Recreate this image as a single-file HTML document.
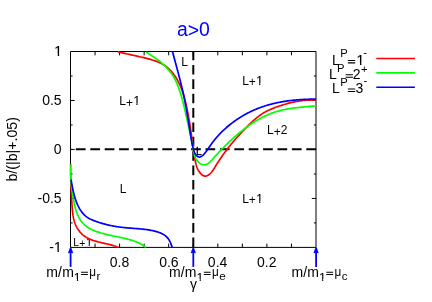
<!DOCTYPE html>
<html><head><meta charset="utf-8"><title>a&gt;0</title>
<style>
html,body{margin:0;padding:0;background:#fff;}
body{width:432px;height:302px;overflow:hidden;}
svg{display:block;will-change:transform;}
text{font-family:"Liberation Sans",sans-serif;fill:#000;}
</style></head><body>
<svg width="432" height="302" viewBox="0 0 432 302">
<rect width="432" height="302" fill="#fff"/>
<text x="193.4" y="36.1" font-size="19.4" text-anchor="middle" style="fill:#0000ff">a<tspan dy="0.8">&gt;</tspan><tspan dy="-0.8">0</tspan></text>
<g stroke="#000" stroke-width="1" fill="none">
<path d="M70.50,51.50 H316.00 V247.40 H70.50 Z"/>
<line x1="291.45" y1="247.40" x2="291.45" y2="243.60"/><line x1="291.45" y1="51.50" x2="291.45" y2="55.30"/><line x1="266.90" y1="247.40" x2="266.90" y2="243.60"/><line x1="266.90" y1="51.50" x2="266.90" y2="55.30"/><line x1="242.35" y1="247.40" x2="242.35" y2="243.60"/><line x1="242.35" y1="51.50" x2="242.35" y2="55.30"/><line x1="217.80" y1="247.40" x2="217.80" y2="243.60"/><line x1="217.80" y1="51.50" x2="217.80" y2="55.30"/><line x1="193.25" y1="247.40" x2="193.25" y2="243.60"/><line x1="193.25" y1="51.50" x2="193.25" y2="55.30"/><line x1="168.70" y1="247.40" x2="168.70" y2="243.60"/><line x1="168.70" y1="51.50" x2="168.70" y2="55.30"/><line x1="144.15" y1="247.40" x2="144.15" y2="243.60"/><line x1="144.15" y1="51.50" x2="144.15" y2="55.30"/><line x1="119.60" y1="247.40" x2="119.60" y2="243.60"/><line x1="119.60" y1="51.50" x2="119.60" y2="55.30"/><line x1="95.05" y1="247.40" x2="95.05" y2="243.60"/><line x1="95.05" y1="51.50" x2="95.05" y2="55.30"/><line x1="70.50" y1="198.43" x2="74.70" y2="198.43"/><line x1="316.00" y1="198.43" x2="311.80" y2="198.43"/><line x1="70.50" y1="149.45" x2="74.70" y2="149.45"/><line x1="316.00" y1="149.45" x2="311.80" y2="149.45"/><line x1="70.50" y1="100.47" x2="74.70" y2="100.47"/><line x1="316.00" y1="100.47" x2="311.80" y2="100.47"/><line x1="70.50" y1="222.91" x2="72.60" y2="222.91"/><line x1="316.00" y1="222.91" x2="313.90" y2="222.91"/><line x1="70.50" y1="173.94" x2="72.60" y2="173.94"/><line x1="316.00" y1="173.94" x2="313.90" y2="173.94"/><line x1="70.50" y1="124.96" x2="72.60" y2="124.96"/><line x1="316.00" y1="124.96" x2="313.90" y2="124.96"/><line x1="70.50" y1="75.99" x2="72.60" y2="75.99"/><line x1="316.00" y1="75.99" x2="313.90" y2="75.99"/>
</g>
<g stroke="#000" stroke-width="2" fill="none">
<line x1="316.00" y1="149.3" x2="70.50" y2="149.3" stroke-dasharray="9.7 4.7"/>
<line x1="193.3" y1="51.50" x2="193.3" y2="247.40" stroke-dasharray="9.7 4.68" stroke-dashoffset="1"/>
</g>
<g font-size="14">
<clipPath id="o1"><path d="M53.32,41.50 H62.72 V53.68 H59.15 V56.00 H57.75 V53.68 H53.32 Z"/></clipPath><text x="54.32" y="55.50" font-size="14.00" clip-path="url(#o1)" stroke="#000" stroke-width="0.15">1</text><text x="61.60" y="105.00" text-anchor="end">0.5</text><text x="61.60" y="154.00" text-anchor="end">0</text><text x="61.60" y="203.00" text-anchor="end">-0.5</text><text x="53.82" y="252.00" text-anchor="end">-</text><clipPath id="o2"><path d="M53.12,238.00 H62.52 V250.18 H58.95 V252.50 H57.55 V250.18 H53.12 Z"/></clipPath><text x="54.12" y="252.00" font-size="14.00" clip-path="url(#o2)" stroke="#000" stroke-width="0.15">1</text>
</g>
<g font-size="14" text-anchor="middle">
<text x="119.5" y="266.6">0.8</text>
<text x="168.9" y="266.6">0.6</text>
<text x="217.6" y="266.6">0.4</text>
<text x="266.7" y="266.6">0.2</text>
</g>
<text font-size="14.2" text-anchor="middle" transform="translate(16.6,149.3) rotate(-90)">b/(|b|+.05)</text>
<g>
<text x="119.35" y="104.70" font-size="12">L</text><text x="126.02" y="106.50" font-size="12">+</text><clipPath id="o3"><path d="M132.39,92.70 H140.59 V103.14 H137.53 V105.20 H136.33 V103.14 H132.39 Z"/></clipPath><text x="133.39" y="104.70" font-size="12.00" clip-path="url(#o3)" stroke="#000" stroke-width="0.15">1</text><text x="181.30" y="65.60" font-size="12">L</text><text x="242.20" y="84.50" font-size="12">L</text><text x="248.87" y="86.30" font-size="12">+</text><clipPath id="o4"><path d="M255.24,72.50 H263.44 V82.94 H260.38 V85.00 H259.18 V82.94 H255.24 Z"/></clipPath><text x="256.24" y="84.50" font-size="12.00" clip-path="url(#o4)" stroke="#000" stroke-width="0.15">1</text><text x="267.10" y="134.00" font-size="12">L</text><text x="273.77" y="135.80" font-size="12">+</text><text x="280.78" y="134.00" font-size="12">2</text><text x="119.70" y="192.70" font-size="12">L</text><text x="242.20" y="202.50" font-size="12">L</text><text x="248.87" y="204.30" font-size="12">+</text><clipPath id="o5"><path d="M255.24,190.50 H263.44 V200.94 H260.38 V203.00 H259.18 V200.94 H255.24 Z"/></clipPath><text x="256.24" y="202.50" font-size="12.00" clip-path="url(#o5)" stroke="#000" stroke-width="0.15">1</text><text x="73.20" y="245.80" font-size="10.4">L</text><text x="79.33" y="247.36" font-size="10.4">+</text><clipPath id="o6"><path d="M85.17,235.40 H92.41 V244.45 H89.76 V246.30 H88.72 V244.45 H85.17 Z"/></clipPath><text x="86.17" y="245.80" font-size="10.40" clip-path="url(#o6)" stroke="#000" stroke-width="0.15">1</text><text x="196.10" y="154.60" font-size="10.5" stroke="#000" stroke-width="0.3">L</text>
</g>
<clipPath id="cp"><rect x="69.5" y="51" width="247.5" height="196.9"/></clipPath>
<g fill="none" stroke-width="1.7" stroke-linejoin="round" clip-path="url(#cp)">
<path stroke="#ff0000" d="M117.90,51.80 L118.86,52.01 L119.81,52.24 L120.77,52.46 L121.72,52.69 L122.68,52.91 L123.64,53.13 L124.59,53.35 L125.55,53.57 L126.50,53.78 L127.46,54.00 L128.41,54.21 L129.37,54.42 L130.32,54.64 L131.28,54.85 L132.23,55.06 L133.19,55.27 L134.14,55.48 L135.10,55.70 L136.05,55.91 L137.01,56.12 L137.96,56.34 L138.92,56.56 L139.87,56.78 L140.82,57.00 L141.78,57.23 L142.73,57.45 L143.69,57.68 L144.64,57.92 L145.59,58.15 L146.55,58.39 L147.50,58.63 L148.45,58.88 L149.41,59.14 L150.36,59.39 L151.31,59.66 L152.25,59.94 L153.19,60.22 L154.13,60.52 L155.06,60.83 L155.98,61.16 L156.90,61.50 L157.81,61.85 L158.71,62.23 L159.59,62.62 L160.47,63.04 L161.34,63.47 L162.19,63.93 L163.03,64.42 L163.85,64.93 L164.66,65.47 L165.46,66.03 L166.24,66.62 L167.00,67.23 L167.75,67.87 L168.48,68.53 L169.19,69.20 L169.89,69.90 L170.57,70.62 L171.24,71.35 L171.89,72.10 L172.53,72.86 L173.15,73.64 L173.75,74.42 L174.33,75.22 L174.90,76.04 L175.45,76.85 L175.99,77.68 L176.51,78.52 L177.01,79.36 L177.50,80.21 L177.97,81.07 L178.42,81.93 L178.87,82.80 L179.29,83.67 L179.71,84.56 L180.11,85.44 L180.50,86.34 L180.87,87.24 L181.24,88.14 L181.59,89.05 L181.93,89.96 L182.26,90.88 L182.58,91.81 L182.89,92.73 L183.19,93.66 L183.48,94.60 L183.76,95.54 L184.04,96.48 L184.30,97.42 L184.56,98.37 L184.81,99.32 L185.06,100.27 L185.30,101.22 L185.53,102.18 L185.75,103.14 L185.98,104.10 L186.19,105.06 L186.41,106.02 L186.61,106.98 L186.82,107.95 L187.02,108.91 L187.22,109.87 L187.42,110.84 L187.61,111.80 L187.80,112.77 L187.99,113.73 L188.17,114.70 L188.35,115.67 L188.53,116.63 L188.71,117.60 L188.88,118.57 L189.05,119.53 L189.22,120.50 L189.38,121.47 L189.54,122.43 L189.70,123.40 L189.86,124.37 L190.01,125.33 L190.16,126.30 L190.31,127.27 L190.46,128.23 L190.60,129.20 L190.74,130.16 L190.88,131.13 L191.02,132.10 L191.15,133.06 L191.29,134.03 L191.42,134.99 L191.55,135.96 L191.68,136.92 L191.81,137.89 L191.94,138.85 L192.07,139.82 L192.19,140.79 L192.32,141.75 L192.45,142.72 L192.58,143.69 L192.71,144.66 L192.85,145.62 L192.98,146.59 L193.12,147.56 L193.25,148.53 L193.39,149.50 L193.53,150.48 L193.68,151.45 L193.82,152.42 L193.97,153.40 L194.13,154.37 L194.28,155.35 L194.44,156.33 L194.61,157.30 L194.78,158.28 L194.95,159.26 L195.13,160.24 L195.32,161.22 L195.52,162.20 L195.74,163.17 L195.98,164.13 L196.24,165.08 L196.52,166.02 L196.83,166.95 L197.18,167.86 L197.56,168.75 L197.98,169.63 L198.44,170.48 L198.94,171.32 L199.49,172.12 L200.10,172.90 L200.75,173.66 L201.46,174.37 L202.23,175.01 L203.04,175.54 L203.89,175.93 L204.77,176.13 L205.68,176.11 L206.61,175.89 L207.54,175.51 L208.44,175.00 L209.30,174.39 L210.11,173.71 L210.85,172.99 L211.53,172.23 L212.17,171.44 L212.76,170.62 L213.32,169.79 L213.85,168.95 L214.37,168.10 L214.88,167.25 L215.40,166.40 L215.91,165.56 L216.43,164.73 L216.95,163.90 L217.47,163.08 L217.99,162.26 L218.52,161.45 L219.05,160.64 L219.58,159.84 L220.12,159.04 L220.65,158.24 L221.20,157.45 L221.74,156.65 L222.30,155.87 L222.85,155.08 L223.41,154.30 L223.98,153.52 L224.55,152.74 L225.12,151.96 L225.70,151.18 L226.28,150.41 L226.87,149.63 L227.47,148.86 L228.07,148.09 L228.67,147.33 L229.28,146.56 L229.89,145.80 L230.50,145.04 L231.12,144.28 L231.75,143.52 L232.37,142.77 L233.01,142.01 L233.64,141.26 L234.28,140.51 L234.92,139.77 L235.57,139.03 L236.22,138.28 L236.87,137.55 L237.52,136.81 L238.18,136.08 L238.84,135.35 L239.51,134.62 L240.18,133.89 L240.85,133.17 L241.52,132.45 L242.19,131.73 L242.87,131.02 L243.55,130.31 L244.23,129.60 L244.92,128.90 L245.60,128.19 L246.29,127.49 L246.98,126.80 L247.67,126.11 L248.36,125.42 L249.06,124.73 L249.76,124.05 L250.46,123.37 L251.16,122.70 L251.87,122.03 L252.58,121.37 L253.30,120.72 L254.02,120.08 L254.75,119.44 L255.48,118.81 L256.23,118.19 L256.97,117.58 L257.73,116.98 L258.49,116.39 L259.26,115.81 L260.04,115.24 L260.83,114.69 L261.63,114.15 L262.44,113.62 L263.26,113.10 L264.09,112.60 L264.94,112.12 L265.79,111.65 L266.66,111.19 L267.54,110.75 L268.42,110.32 L269.32,109.91 L270.22,109.50 L271.13,109.11 L272.05,108.73 L272.97,108.36 L273.90,108.00 L274.83,107.65 L275.76,107.31 L276.69,106.97 L277.63,106.64 L278.56,106.31 L279.50,106.00 L280.44,105.68 L281.37,105.38 L282.31,105.08 L283.24,104.79 L284.18,104.50 L285.12,104.22 L286.05,103.95 L286.99,103.69 L287.93,103.43 L288.87,103.18 L289.81,102.94 L290.75,102.71 L291.70,102.48 L292.64,102.27 L293.59,102.06 L294.54,101.86 L295.49,101.67 L296.44,101.49 L297.40,101.32 L298.35,101.16 L299.31,101.01 L300.27,100.87 L301.24,100.74 L302.20,100.62 L303.17,100.51 L304.14,100.41 L305.12,100.32 L306.09,100.24 L307.07,100.18 L308.06,100.12 L309.04,100.08 L310.03,100.05 L311.03,100.03 L312.02,100.02 L313.03,100.02 L314.03,100.04 L315.04,100.07 L316.00,100.00"/>
<path stroke="#ff0000" d="M70.50,164.00 L70.49,164.83 L70.49,165.66 L70.50,166.48 L70.51,167.30 L70.52,168.11 L70.53,168.93 L70.54,169.74 L70.56,170.55 L70.57,171.35 L70.59,172.16 L70.60,172.96 L70.62,173.77 L70.64,174.57 L70.66,175.37 L70.68,176.16 L70.70,176.96 L70.72,177.76 L70.75,178.55 L70.77,179.34 L70.80,180.14 L70.82,180.93 L70.85,181.72 L70.88,182.51 L70.91,183.30 L70.94,184.09 L70.97,184.88 L71.00,185.67 L71.03,186.46 L71.07,187.25 L71.10,188.04 L71.14,188.83 L71.17,189.62 L71.21,190.41 L71.25,191.20 L71.29,191.99 L71.32,192.79 L71.36,193.58 L71.41,194.37 L71.45,195.17 L71.49,195.97 L71.53,196.76 L71.58,197.56 L71.62,198.36 L71.67,199.17 L71.71,199.97 L71.76,200.77 L71.80,201.58 L71.85,202.39 L71.90,203.20 L71.95,204.02 L72.00,204.83 L72.05,205.65 L72.10,206.47 L72.16,207.29 L72.21,208.11 L72.28,208.94 L72.34,209.76 L72.41,210.58 L72.49,211.40 L72.58,212.22 L72.67,213.04 L72.77,213.86 L72.88,214.67 L73.00,215.48 L73.14,216.29 L73.28,217.09 L73.44,217.88 L73.61,218.68 L73.80,219.46 L74.00,220.24 L74.22,221.02 L74.45,221.78 L74.70,222.54 L74.97,223.29 L75.26,224.04 L75.57,224.77 L75.90,225.50 L76.24,226.21 L76.60,226.91 L76.98,227.61 L77.38,228.29 L77.79,228.96 L78.23,229.61 L78.67,230.26 L79.14,230.88 L79.62,231.50 L80.12,232.10 L80.64,232.68 L81.17,233.25 L81.72,233.80 L82.29,234.33 L82.87,234.85 L83.46,235.34 L84.08,235.82 L84.70,236.28 L85.35,236.72 L86.00,237.14 L86.68,237.54 L87.36,237.93 L88.06,238.29 L88.77,238.64 L89.49,238.98 L90.23,239.29 L90.97,239.60 L91.72,239.89 L92.49,240.17 L93.25,240.44 L94.03,240.69 L94.82,240.94 L95.60,241.17 L96.40,241.40 L97.20,241.62 L98.00,241.84 L98.81,242.04 L99.62,242.24 L100.43,242.44 L101.25,242.63 L102.06,242.82 L102.87,243.00 L103.69,243.19 L104.50,243.37 L105.31,243.56 L106.12,243.74 L106.92,243.92 L107.72,244.11 L108.51,244.30 L109.30,244.49 L110.09,244.69 L110.86,244.90 L111.63,245.11 L112.39,245.32 L113.15,245.55 L113.89,245.78 L114.62,246.02 L115.34,246.27 L116.05,246.53 L116.75,246.80 L117.44,247.09 L118.20,247.50"/>
<path stroke="#00ff00" d="M146.20,52.00 L146.88,52.47 L147.56,52.96 L148.25,53.43 L148.94,53.90 L149.62,54.36 L150.32,54.82 L151.01,55.27 L151.70,55.71 L152.39,56.16 L153.08,56.61 L153.77,57.06 L154.46,57.51 L155.15,57.97 L155.83,58.43 L156.51,58.90 L157.18,59.38 L157.85,59.87 L158.51,60.37 L159.17,60.87 L159.82,61.39 L160.46,61.91 L161.11,62.44 L161.74,62.98 L162.37,63.53 L162.99,64.09 L163.60,64.65 L164.20,65.22 L164.80,65.80 L165.39,66.39 L165.98,66.98 L166.55,67.59 L167.11,68.20 L167.67,68.82 L168.22,69.44 L168.76,70.08 L169.28,70.72 L169.80,71.37 L170.31,72.02 L170.81,72.69 L171.29,73.36 L171.77,74.03 L172.24,74.72 L172.69,75.41 L173.13,76.11 L173.56,76.81 L173.98,77.52 L174.39,78.24 L174.78,78.96 L175.16,79.70 L175.53,80.43 L175.89,81.17 L176.24,81.92 L176.57,82.67 L176.90,83.43 L177.22,84.19 L177.53,84.95 L177.84,85.72 L178.13,86.49 L178.42,87.27 L178.71,88.04 L178.98,88.82 L179.25,89.60 L179.52,90.39 L179.78,91.17 L180.04,91.95 L180.29,92.74 L180.54,93.53 L180.79,94.32 L181.03,95.11 L181.26,95.90 L181.50,96.69 L181.73,97.49 L181.95,98.28 L182.18,99.08 L182.39,99.88 L182.61,100.68 L182.82,101.48 L183.03,102.29 L183.24,103.09 L183.44,103.90 L183.65,104.71 L183.84,105.51 L184.04,106.32 L184.24,107.14 L184.43,107.95 L184.62,108.76 L184.81,109.57 L185.00,110.38 L185.18,111.20 L185.37,112.01 L185.55,112.82 L185.73,113.63 L185.91,114.44 L186.09,115.26 L186.27,116.07 L186.45,116.88 L186.63,117.69 L186.81,118.49 L186.99,119.30 L187.16,120.11 L187.34,120.91 L187.52,121.71 L187.69,122.52 L187.87,123.32 L188.05,124.12 L188.22,124.93 L188.40,125.73 L188.57,126.53 L188.75,127.33 L188.92,128.13 L189.10,128.93 L189.27,129.73 L189.45,130.53 L189.62,131.34 L189.79,132.14 L189.96,132.94 L190.14,133.75 L190.31,134.55 L190.48,135.35 L190.65,136.16 L190.82,136.97 L190.99,137.78 L191.16,138.59 L191.33,139.40 L191.49,140.21 L191.66,141.02 L191.83,141.84 L191.99,142.65 L192.16,143.47 L192.32,144.29 L192.49,145.11 L192.65,145.94 L192.82,146.76 L192.98,147.59 L193.14,148.42 L193.30,149.26 L193.46,150.09 L193.62,150.93 L193.79,151.76 L193.97,152.59 L194.15,153.42 L194.35,154.24 L194.57,155.05 L194.81,155.85 L195.07,156.63 L195.36,157.40 L195.68,158.15 L196.03,158.87 L196.42,159.58 L196.85,160.26 L197.33,160.91 L197.85,161.53 L198.42,162.13 L199.04,162.68 L199.71,163.20 L200.42,163.66 L201.17,164.06 L201.94,164.37 L202.73,164.60 L203.53,164.73 L204.33,164.75 L205.13,164.66 L205.92,164.48 L206.69,164.21 L207.45,163.87 L208.18,163.46 L208.88,162.99 L209.54,162.47 L210.18,161.92 L210.79,161.33 L211.38,160.71 L211.96,160.07 L212.52,159.42 L213.07,158.76 L213.62,158.11 L214.17,157.46 L214.72,156.82 L215.27,156.19 L215.82,155.56 L216.38,154.94 L216.93,154.33 L217.49,153.73 L218.05,153.12 L218.61,152.53 L219.17,151.93 L219.73,151.34 L220.30,150.75 L220.86,150.17 L221.43,149.58 L222.00,148.99 L222.58,148.41 L223.15,147.82 L223.73,147.24 L224.31,146.66 L224.89,146.08 L225.48,145.50 L226.07,144.92 L226.65,144.34 L227.25,143.77 L227.84,143.19 L228.44,142.62 L229.04,142.05 L229.64,141.48 L230.24,140.91 L230.84,140.34 L231.45,139.78 L232.06,139.22 L232.68,138.66 L233.29,138.10 L233.91,137.55 L234.53,136.99 L235.15,136.44 L235.78,135.90 L236.40,135.35 L237.03,134.81 L237.67,134.27 L238.30,133.73 L238.94,133.20 L239.58,132.67 L240.22,132.14 L240.87,131.62 L241.52,131.10 L242.17,130.58 L242.82,130.07 L243.48,129.56 L244.14,129.05 L244.80,128.55 L245.46,128.05 L246.13,127.55 L246.80,127.06 L247.47,126.57 L248.14,126.09 L248.82,125.61 L249.50,125.13 L250.19,124.66 L250.87,124.20 L251.56,123.74 L252.25,123.28 L252.95,122.83 L253.64,122.38 L254.34,121.94 L255.05,121.50 L255.75,121.07 L256.46,120.64 L257.17,120.22 L257.89,119.81 L258.60,119.40 L259.32,118.99 L260.05,118.59 L260.77,118.20 L261.50,117.82 L262.23,117.43 L262.96,117.06 L263.70,116.69 L264.44,116.33 L265.18,115.98 L265.93,115.63 L266.68,115.29 L267.43,114.95 L268.19,114.63 L268.94,114.31 L269.70,113.99 L270.47,113.69 L271.23,113.39 L272.00,113.10 L272.78,112.82 L273.55,112.54 L274.33,112.27 L275.11,112.01 L275.89,111.76 L276.68,111.52 L277.47,111.28 L278.27,111.06 L279.06,110.84 L279.86,110.63 L280.66,110.43 L281.47,110.23 L282.27,110.04 L283.08,109.86 L283.89,109.69 L284.71,109.52 L285.52,109.36 L286.34,109.20 L287.16,109.06 L287.98,108.91 L288.80,108.77 L289.63,108.64 L290.45,108.51 L291.28,108.39 L292.10,108.27 L292.93,108.16 L293.76,108.05 L294.59,107.95 L295.42,107.84 L296.25,107.74 L297.08,107.65 L297.91,107.56 L298.74,107.47 L299.57,107.38 L300.40,107.29 L301.23,107.21 L302.05,107.13 L302.88,107.05 L303.71,106.97 L304.54,106.90 L305.36,106.82 L306.19,106.74 L307.01,106.67 L307.83,106.59 L308.65,106.52 L309.47,106.44 L310.29,106.37 L311.10,106.29 L311.92,106.22 L312.73,106.14 L313.54,106.06 L314.35,105.98 L315.15,105.89 L316.00,105.90"/>
<path stroke="#00ff00" d="M70.80,164.50 L70.73,165.47 L70.68,166.43 L70.63,167.39 L70.60,168.34 L70.57,169.29 L70.55,170.23 L70.54,171.17 L70.54,172.11 L70.55,173.04 L70.56,173.97 L70.59,174.90 L70.62,175.83 L70.66,176.75 L70.70,177.67 L70.76,178.59 L70.82,179.51 L70.89,180.42 L70.96,181.34 L71.04,182.25 L71.13,183.16 L71.22,184.07 L71.32,184.98 L71.42,185.89 L71.53,186.80 L71.65,187.71 L71.77,188.62 L71.90,189.53 L72.03,190.44 L72.16,191.35 L72.30,192.27 L72.45,193.18 L72.60,194.09 L72.75,195.01 L72.91,195.93 L73.07,196.85 L73.23,197.77 L73.40,198.69 L73.57,199.62 L73.74,200.55 L73.92,201.48 L74.10,202.41 L74.29,203.34 L74.49,204.27 L74.70,205.20 L74.92,206.13 L75.14,207.05 L75.38,207.97 L75.62,208.89 L75.88,209.81 L76.15,210.72 L76.44,211.62 L76.74,212.52 L77.06,213.40 L77.40,214.28 L77.76,215.14 L78.14,215.99 L78.54,216.83 L78.96,217.64 L79.41,218.45 L79.89,219.23 L80.39,219.99 L80.91,220.74 L81.46,221.46 L82.03,222.17 L82.62,222.86 L83.23,223.52 L83.87,224.16 L84.53,224.79 L85.21,225.39 L85.91,225.96 L86.63,226.52 L87.37,227.05 L88.13,227.56 L88.90,228.04 L89.70,228.50 L90.51,228.94 L91.34,229.36 L92.17,229.76 L93.02,230.14 L93.88,230.50 L94.74,230.86 L95.61,231.19 L96.48,231.52 L97.36,231.83 L98.24,232.13 L99.13,232.42 L100.02,232.70 L100.91,232.97 L101.81,233.23 L102.71,233.48 L103.62,233.73 L104.52,233.96 L105.43,234.19 L106.35,234.41 L107.26,234.63 L108.18,234.84 L109.09,235.05 L110.01,235.25 L110.93,235.45 L111.85,235.64 L112.77,235.84 L113.70,236.03 L114.62,236.22 L115.54,236.41 L116.46,236.60 L117.39,236.79 L118.31,236.98 L119.23,237.17 L120.15,237.36 L121.06,237.56 L121.98,237.76 L122.89,237.96 L123.81,238.17 L124.72,238.39 L125.62,238.61 L126.53,238.83 L127.43,239.06 L128.33,239.30 L129.22,239.55 L130.12,239.81 L131.00,240.07 L131.89,240.35 L132.77,240.63 L133.64,240.93 L134.51,241.23 L135.38,241.55 L136.23,241.88 L137.09,242.23 L137.93,242.59 L138.77,242.97 L139.60,243.37 L140.42,243.79 L141.22,244.23 L142.02,244.69 L142.81,245.17 L143.58,245.67 L144.35,246.21 L145.10,246.76 L145.70,247.50"/>
<path stroke="#0000ff" d="M172.40,51.50 L172.66,52.23 L172.86,52.98 L173.06,53.73 L173.26,54.48 L173.46,55.22 L173.67,55.97 L173.87,56.72 L174.07,57.46 L174.27,58.21 L174.48,58.96 L174.68,59.71 L174.88,60.45 L175.09,61.20 L175.29,61.95 L175.49,62.70 L175.70,63.44 L175.90,64.19 L176.10,64.94 L176.31,65.69 L176.51,66.44 L176.71,67.18 L176.91,67.93 L177.11,68.68 L177.31,69.43 L177.51,70.18 L177.71,70.93 L177.91,71.68 L178.11,72.43 L178.31,73.18 L178.51,73.93 L178.70,74.68 L178.90,75.43 L179.10,76.18 L179.29,76.93 L179.48,77.68 L179.68,78.43 L179.87,79.18 L180.06,79.93 L180.25,80.68 L180.44,81.43 L180.62,82.18 L180.81,82.94 L181.00,83.69 L181.18,84.44 L181.36,85.20 L181.54,85.95 L181.73,86.70 L181.90,87.46 L182.08,88.21 L182.26,88.96 L182.43,89.72 L182.61,90.47 L182.78,91.23 L182.95,91.99 L183.11,92.74 L183.28,93.50 L183.45,94.25 L183.61,95.01 L183.77,95.77 L183.93,96.53 L184.09,97.28 L184.24,98.04 L184.40,98.80 L184.55,99.56 L184.70,100.32 L184.85,101.08 L185.00,101.84 L185.15,102.60 L185.29,103.36 L185.44,104.12 L185.58,104.88 L185.72,105.64 L185.86,106.40 L186.00,107.17 L186.14,107.93 L186.27,108.69 L186.41,109.45 L186.54,110.22 L186.68,110.98 L186.81,111.74 L186.94,112.50 L187.07,113.27 L187.20,114.03 L187.33,114.80 L187.46,115.56 L187.59,116.32 L187.72,117.09 L187.84,117.85 L187.97,118.62 L188.09,119.38 L188.22,120.14 L188.34,120.91 L188.47,121.67 L188.59,122.44 L188.71,123.20 L188.84,123.97 L188.96,124.73 L189.08,125.50 L189.21,126.26 L189.33,127.03 L189.45,127.79 L189.57,128.56 L189.70,129.32 L189.82,130.09 L189.94,130.85 L190.06,131.62 L190.19,132.38 L190.31,133.15 L190.43,133.91 L190.56,134.68 L190.68,135.44 L190.80,136.21 L190.93,136.97 L191.05,137.74 L191.18,138.50 L191.31,139.27 L191.43,140.03 L191.56,140.80 L191.69,141.56 L191.82,142.32 L191.96,143.09 L192.10,143.85 L192.25,144.61 L192.40,145.36 L192.57,146.12 L192.74,146.87 L192.93,147.62 L193.13,148.37 L193.34,149.12 L193.57,149.86 L193.81,150.60 L194.07,151.33 L194.34,152.06 L194.64,152.79 L194.97,153.50 L195.34,154.19 L195.77,154.85 L196.27,155.46 L196.86,156.02 L197.52,156.48 L198.22,156.83 L198.95,157.03 L199.68,157.04 L200.41,156.87 L201.12,156.56 L201.80,156.13 L202.45,155.64 L203.06,155.12 L203.63,154.57 L204.16,154.00 L204.68,153.42 L205.17,152.82 L205.65,152.21 L206.12,151.60 L206.58,150.98 L207.03,150.36 L207.47,149.73 L207.91,149.09 L208.34,148.46 L208.77,147.82 L209.20,147.18 L209.63,146.54 L210.07,145.91 L210.51,145.27 L210.95,144.64 L211.40,144.02 L211.85,143.39 L212.31,142.77 L212.77,142.16 L213.24,141.55 L213.71,140.94 L214.19,140.33 L214.68,139.73 L215.17,139.14 L215.66,138.54 L216.16,137.95 L216.66,137.37 L217.17,136.79 L217.69,136.21 L218.20,135.63 L218.73,135.06 L219.25,134.50 L219.78,133.94 L220.32,133.38 L220.86,132.82 L221.41,132.27 L221.96,131.73 L222.51,131.19 L223.07,130.65 L223.63,130.11 L224.20,129.59 L224.77,129.06 L225.34,128.54 L225.92,128.02 L226.50,127.51 L227.09,127.00 L227.68,126.50 L228.28,126.00 L228.87,125.50 L229.48,125.01 L230.08,124.52 L230.69,124.04 L231.30,123.56 L231.92,123.09 L232.54,122.62 L233.17,122.16 L233.79,121.70 L234.42,121.24 L235.06,120.79 L235.69,120.34 L236.33,119.90 L236.98,119.46 L237.62,119.03 L238.27,118.60 L238.93,118.18 L239.58,117.76 L240.24,117.35 L240.90,116.94 L241.57,116.53 L242.23,116.13 L242.90,115.74 L243.58,115.35 L244.25,114.96 L244.93,114.58 L245.61,114.21 L246.30,113.84 L246.98,113.47 L247.67,113.11 L248.36,112.75 L249.05,112.40 L249.75,112.06 L250.45,111.72 L251.15,111.38 L251.85,111.05 L252.55,110.73 L253.26,110.40 L253.97,110.09 L254.68,109.78 L255.39,109.47 L256.10,109.17 L256.82,108.88 L257.53,108.59 L258.25,108.31 L258.97,108.03 L259.70,107.76 L260.42,107.49 L261.15,107.22 L261.87,106.97 L262.60,106.71 L263.33,106.47 L264.07,106.22 L264.80,105.99 L265.53,105.75 L266.27,105.53 L267.01,105.30 L267.75,105.09 L268.49,104.87 L269.23,104.66 L269.97,104.46 L270.72,104.26 L271.46,104.07 L272.21,103.88 L272.96,103.69 L273.70,103.51 L274.45,103.33 L275.21,103.16 L275.96,102.99 L276.71,102.83 L277.47,102.67 L278.22,102.52 L278.98,102.36 L279.74,102.22 L280.50,102.07 L281.26,101.93 L282.02,101.80 L282.78,101.67 L283.54,101.54 L284.30,101.42 L285.07,101.30 L285.83,101.18 L286.60,101.07 L287.36,100.96 L288.13,100.86 L288.90,100.75 L289.67,100.66 L290.44,100.56 L291.21,100.47 L291.98,100.38 L292.75,100.30 L293.52,100.22 L294.29,100.14 L295.06,100.06 L295.84,99.99 L296.61,99.92 L297.38,99.86 L298.16,99.79 L298.93,99.74 L299.71,99.68 L300.48,99.62 L301.26,99.57 L302.03,99.53 L302.81,99.48 L303.59,99.44 L304.36,99.40 L305.14,99.36 L305.92,99.32 L306.69,99.29 L307.47,99.26 L308.25,99.23 L309.03,99.21 L309.80,99.18 L310.58,99.16 L311.36,99.14 L312.14,99.13 L312.91,99.11 L313.69,99.10 L314.47,99.09 L315.24,99.08 L316.00,99.10"/>
<path stroke="#0000ff" d="M71.00,179.60 L71.15,180.58 L71.34,181.53 L71.53,182.49 L71.71,183.45 L71.90,184.41 L72.08,185.37 L72.27,186.34 L72.47,187.30 L72.66,188.27 L72.86,189.23 L73.07,190.20 L73.28,191.17 L73.50,192.13 L73.73,193.10 L73.97,194.06 L74.22,195.02 L74.47,195.98 L74.74,196.93 L75.03,197.88 L75.32,198.83 L75.63,199.77 L75.96,200.71 L76.30,201.64 L76.66,202.57 L77.03,203.49 L77.42,204.41 L77.84,205.32 L78.27,206.22 L78.72,207.11 L79.20,207.99 L79.69,208.85 L80.21,209.70 L80.75,210.53 L81.32,211.35 L81.91,212.14 L82.52,212.91 L83.15,213.65 L83.82,214.37 L84.50,215.05 L85.22,215.71 L85.96,216.33 L86.73,216.92 L87.52,217.47 L88.34,217.98 L89.19,218.46 L90.06,218.91 L90.94,219.34 L91.84,219.74 L92.74,220.13 L93.66,220.50 L94.58,220.86 L95.50,221.21 L96.42,221.55 L97.35,221.88 L98.28,222.20 L99.22,222.51 L100.15,222.81 L101.09,223.10 L102.04,223.38 L102.98,223.66 L103.93,223.92 L104.88,224.17 L105.84,224.42 L106.79,224.66 L107.75,224.88 L108.71,225.10 L109.68,225.32 L110.64,225.52 L111.61,225.72 L112.58,225.90 L113.55,226.08 L114.52,226.26 L115.50,226.42 L116.47,226.58 L117.45,226.73 L118.43,226.87 L119.41,227.01 L120.39,227.14 L121.37,227.27 L122.35,227.38 L123.34,227.49 L124.32,227.60 L125.31,227.70 L126.30,227.79 L127.28,227.88 L128.27,227.97 L129.26,228.05 L130.25,228.12 L131.23,228.20 L132.22,228.27 L133.21,228.35 L134.20,228.42 L135.19,228.49 L136.17,228.57 L137.16,228.64 L138.14,228.72 L139.13,228.80 L140.11,228.89 L141.09,228.98 L142.08,229.08 L143.06,229.18 L144.03,229.29 L145.01,229.40 L145.99,229.53 L146.96,229.66 L147.93,229.80 L148.90,229.96 L149.87,230.12 L150.83,230.30 L151.80,230.48 L152.76,230.68 L153.71,230.90 L154.67,231.13 L155.62,231.37 L156.57,231.63 L157.51,231.91 L158.44,232.22 L159.36,232.54 L160.26,232.89 L161.15,233.27 L162.02,233.68 L162.86,234.13 L163.68,234.61 L164.48,235.12 L165.24,235.68 L165.98,236.28 L166.68,236.93 L167.34,237.62 L167.96,238.36 L168.55,239.15 L169.09,239.98 L169.60,240.86 L170.07,241.77 L170.50,242.71 L170.90,243.67 L171.27,244.66 L171.60,245.67 L171.90,246.69 L172.30,247.50"/>
</g>
<g stroke-width="1.6" fill="none">
<line x1="376.3" y1="58.5" x2="414.9" y2="58.5" stroke="#ff0000"/>
<line x1="376.3" y1="72.9" x2="414.9" y2="72.9" stroke="#00ff00"/>
<line x1="376.3" y1="87.25" x2="414.9" y2="87.25" stroke="#0000ff"/>
</g>
<g>
<text x="332.00" y="64.60" font-size="14">L</text><text x="340.20" y="57.20" font-size="11.2">P</text><path d="M347.90,60.40 H355.20 M347.90,62.85 H355.20" stroke="#000" stroke-width="1.05" fill="none"/><clipPath id="o7"><path d="M355.60,50.60 H365.00 V62.78 H361.43 V65.10 H360.03 V62.78 H355.60 Z"/></clipPath><text x="356.60" y="64.60" font-size="14.00" clip-path="url(#o7)" stroke="#000" stroke-width="0.15">1</text><text x="363.30" y="55.80" font-size="11.2">-</text>
<text x="329.00" y="78.90" font-size="14">L</text><text x="336.90" y="71.50" font-size="11.2">P</text><path d="M345.60,74.70 H352.90 M345.60,77.15 H352.90" stroke="#000" stroke-width="1.05" fill="none"/><text x="352.80" y="78.90" font-size="14">2</text><text x="361.00" y="73.00" font-size="11.2">+</text>
<text x="332.00" y="93.20" font-size="14">L</text><text x="340.20" y="85.80" font-size="11.2">P</text><path d="M347.90,89.00 H355.20 M347.90,91.45 H355.20" stroke="#000" stroke-width="1.05" fill="none"/><text x="355.40" y="93.20" font-size="14">3</text><text x="363.60" y="84.40" font-size="11.2">-</text>
</g>
<g stroke="#0000ff" stroke-width="1.8" fill="#0000ff">
<line x1="70.60" y1="266.9" x2="70.60" y2="251"/><path d="M70.05,247.2 L71.15,247.2 L73.25,253.3 Q70.60,252.4 67.95,253.3 Z" stroke="none"/>
<line x1="193.30" y1="266.9" x2="193.30" y2="251"/><path d="M192.75,247.2 L193.85,247.2 L195.95,253.3 Q193.30,252.4 190.65,253.3 Z" stroke="none"/>
<line x1="316.10" y1="266.9" x2="316.10" y2="251"/><path d="M315.55,247.2 L316.65,247.2 L318.75,253.3 Q316.10,252.4 313.45,253.3 Z" stroke="none"/>
</g>
<g>
<text x="46.20" y="276.80" font-size="14" letter-spacing="0.2">m/m</text><clipPath id="o8"><path d="M73.10,269.00 H81.06 V279.09 H78.10 V281.10 H76.94 V279.09 H73.10 Z"/></clipPath><text x="74.10" y="280.60" font-size="11.60" clip-path="url(#o8)" stroke="#000" stroke-width="0.15">1</text><path d="M81.10,272.20 H87.90 M81.10,274.50 H87.90" stroke="#000" stroke-width="1.05" fill="none"/><text transform="translate(89.20,276.35) scale(0.84,0.965)" font-size="14">&#956;</text><text x="96.50" y="280.20" font-size="11.6">r</text>
<text x="168.90" y="276.80" font-size="14" letter-spacing="0.2">m/m</text><clipPath id="o9"><path d="M195.80,269.00 H203.76 V279.09 H200.80 V281.10 H199.64 V279.09 H195.80 Z"/></clipPath><text x="196.80" y="280.60" font-size="11.60" clip-path="url(#o9)" stroke="#000" stroke-width="0.15">1</text><path d="M203.80,272.20 H210.60 M203.80,274.50 H210.60" stroke="#000" stroke-width="1.05" fill="none"/><text transform="translate(211.90,276.35) scale(0.84,0.965)" font-size="14">&#956;</text><text x="219.20" y="280.20" font-size="11.6">e</text>
<text x="291.40" y="276.80" font-size="14" letter-spacing="0.2">m/m</text><clipPath id="o10"><path d="M318.30,269.00 H326.26 V279.09 H323.30 V281.10 H322.14 V279.09 H318.30 Z"/></clipPath><text x="319.30" y="280.60" font-size="11.60" clip-path="url(#o10)" stroke="#000" stroke-width="0.15">1</text><path d="M326.30,272.20 H333.10 M326.30,274.50 H333.10" stroke="#000" stroke-width="1.05" fill="none"/><text transform="translate(334.40,276.35) scale(0.84,0.965)" font-size="14">&#956;</text><text x="341.70" y="280.20" font-size="11.6">c</text>
<text x="193.50" y="288.50" font-size="14" text-anchor="middle">&#947;</text>
</g>
</svg>
</body></html>
